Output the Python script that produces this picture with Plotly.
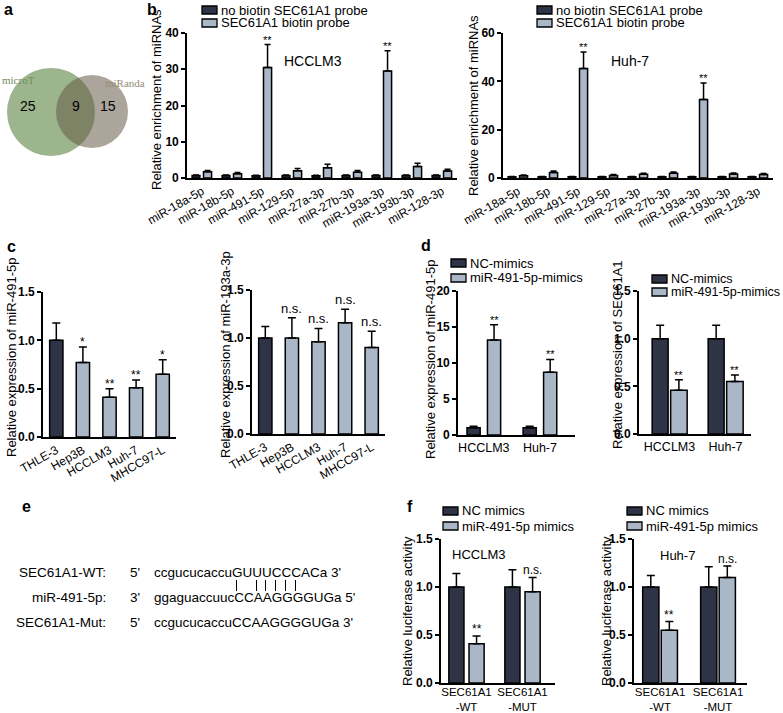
import plotly.graph_objects as go

W, H = 783, 713
FONT = "Arial, Liberation Sans, sans-serif"
SERIF = "Times New Roman, Liberation Serif, serif"
DARK = "#2e3446"
LIGHT = "#a9b7c7"

# ------------------------------------------------------------------ data
venn_sets = ["microT", "miRanda"]
venn_counts = [25, 9, 15]          # microT only, shared, miRanda only

mirnas = ["miR-18a-5p", "miR-18b-5p", "miR-491-5p", "miR-129-5p", "miR-27a-3p",
          "miR-27b-3p", "miR-193a-3p", "miR-193b-3p", "miR-128-3p"]
probe_series = ["no biotin SEC61A1 probe", "SEC61A1 biotin probe"]
hcclm3_nobiotin = [0.7, 0.7, 0.6, 0.7, 0.6, 0.7, 0.7, 0.7, 0.7]
hcclm3_nobiotin_err = [0.15, 0.15, 0.15, 0.15, 0.15, 0.15, 0.15, 0.15, 0.15]
hcclm3_biotin = [1.7, 1.2, 30.5, 2.0, 2.8, 1.6, 29.5, 3.2, 1.9]
hcclm3_biotin_err = [0.4, 0.3, 6.3, 0.6, 1.0, 0.5, 5.6, 0.9, 0.5]
hcclm3_sig = ["", "", "**", "", "", "", "**", "", ""]
huh7_nobiotin = [0.5, 0.5, 0.5, 0.5, 0.5, 0.5, 0.5, 0.5, 0.5]
huh7_nobiotin_err = [0.1, 0.1, 0.1, 0.1, 0.1, 0.1, 0.1, 0.1, 0.1]
huh7_biotin = [0.9, 2.3, 45.3, 1.0, 1.6, 2.0, 32.5, 1.7, 1.5]
huh7_biotin_err = [0.3, 0.6, 6.8, 0.4, 0.4, 0.5, 6.8, 0.4, 0.4]
huh7_sig = ["", "", "**", "", "", "", "**", "", ""]

cell_lines = ["THLE-3", "Hep3B", "HCCLM3", "Huh-7", "MHCC97-L"]
mir491_expr = [1.0, 0.77, 0.41, 0.51, 0.65]
mir491_err = [0.18, 0.16, 0.09, 0.08, 0.15]
mir491_sig = ["", "*", "**", "**", "*"]
mir193a_expr = [1.0, 1.0, 0.96, 1.16, 0.90]
mir193a_err = [0.12, 0.21, 0.14, 0.14, 0.17]
mir193a_sig = ["", "n.s.", "n.s.", "n.s.", "n.s."]

hcc_lines = ["HCCLM3", "Huh-7"]
mimic_series = ["NC-mimics", "miR-491-5p-mimics"]
d491_nc = [1.0, 1.0]
d491_nc_err = [0.2, 0.2]
d491_mim = [13.2, 8.7]
d491_mim_err = [2.1, 1.8]
d491_sig = ["**", "**"]
dsec_nc = [1.0, 1.0]
dsec_nc_err = [0.14, 0.14]
dsec_mim = [0.46, 0.55]
dsec_mim_err = [0.11, 0.07]
dsec_sig = ["**", "**"]

reporters = ["SEC61A1<br>-WT", "SEC61A1<br>-MUT"]
luc_series = ["NC mimics", "miR-491-5p mimics"]
f_hcc_nc = [1.0, 1.0]
f_hcc_nc_err = [0.14, 0.18]
f_hcc_mim = [0.41, 0.95]
f_hcc_mim_err = [0.08, 0.15]
f_hcc_sig = ["**", "n.s."]
f_huh_nc = [1.0, 1.0]
f_huh_nc_err = [0.12, 0.21]
f_huh_mim = [0.55, 1.1]
f_huh_mim_err = [0.09, 0.12]
f_huh_sig = ["**", "n.s."]

seq_labels = ["SEC61A1-WT:", "miR-491-5p:", "SEC61A1-Mut:"]
seq_ends = ["5'", "3'", "5'"]
seq_bases = ["ccgucucaccuGUUUCCCACa", "ggaguaccuucCCAAGGGGUGa", "ccgucucaccuCCAAGGGGUGa"]
seq_tails = [" 3'", " 5'", " 3'"]

# ------------------------------------------------------------------ helpers
def PX(p):
    return p / W

def PY(p):
    return 1 - p / H

fig = go.Figure()
layout = dict(width=W, height=H, margin=dict(l=0, r=0, t=0, b=0, pad=0, autoexpand=False),
              template="none",
              paper_bgcolor="white", plot_bgcolor="white",
              showlegend=False, barmode="group",
              font=dict(family=FONT, color="black"))
annotations = []
shapes = []

def text(x, y, s, size=13, xanchor="center", yanchor="middle", angle=0,
         bold=False, family=FONT, color="black"):
    annotations.append(dict(x=PX(x), y=PY(y), xref="paper", yref="paper", text=s,
                            showarrow=False, xanchor=xanchor, yanchor=yanchor,
                            textangle=angle,
                            font=dict(family=family, size=size, color=color,
                                      weight="bold" if bold else "normal")))

def add_axes(k, x0, x1, yb, yt, yr, xr, dtick, fmt, angle, xfont=12, standoff=0):
    s = "" if k == 1 else str(k)
    layout["xaxis" + s] = dict(domain=[PX(x0), PX(x1)], anchor="y" + s, type="category",
                               range=xr, showline=True, linecolor="black", linewidth=1.6,
                               ticks="", showgrid=False, zeroline=False, tickangle=angle,
                               automargin=False, ticklabelstandoff=standoff,
                               tickfont=dict(family=FONT, size=xfont, color="black"))
    layout["yaxis" + s] = dict(domain=[PY(yb), PY(yt)], anchor="x" + s, range=yr,
                               showline=True, linecolor="black", linewidth=1.6,
                               ticks="outside", ticklen=4, tickwidth=1.6, tickcolor="black",
                               dtick=dtick, tick0=0, tickformat=fmt, showgrid=False,
                               zeroline=False, automargin=False,
                               tickfont=dict(family=FONT, size=12, color="black",
                                             weight="bold"))
    return s

def add_bars(s, cats, vals, errs, color, offset, width, cap):
    fig.add_trace(go.Bar(x=cats, y=vals, xaxis="x" + s, yaxis="y" + s,
                         offset=offset, width=width,
                         marker=dict(color=color, line=dict(color="black", width=1.5)),
                         error_y=dict(type="data", array=errs, arrayminus=[0] * len(errs),
                                      symmetric=False, color="black", thickness=1.5,
                                      width=cap)))

def add_sig(s, vals, errs, sigs, offset, width, size=12, gap=0):
    for i, (v, e, g) in enumerate(zip(vals, errs, sigs)):
        if g:
            annotations.append(dict(x=i + offset + width / 2, y=v + e, xref="x" + s,
                                    yref="y" + s, text=g, showarrow=False,
                                    yanchor="bottom", yshift=gap,
                                    font=dict(family=FONT, size=size, color="black")))

def legend(sx, rows, names, colors, size=13):
    for cy, n, c in zip(rows, names, colors):
        shapes.append(dict(type="rect", xref="paper", yref="paper",
                           x0=PX(sx), x1=PX(sx + 15), y0=PY(cy + 4), y1=PY(cy - 4),
                           fillcolor=c, line=dict(color="black", width=1.3)))
        text(sx + 17, cy, n, size=size, xanchor="left")

# ------------------------------------------------------------------ panel a (Venn)
shapes.append(dict(type="circle", xref="paper", yref="paper", x0=PX(7), x1=PX(95),
                   y0=PY(156), y1=PY(68), fillcolor="rgb(156,181,141)",
                   line=dict(width=0), layer="above"))
shapes.append(dict(type="circle", xref="paper", yref="paper", x0=PX(56), x1=PX(128),
                   y0=PY(148), y1=PY(75), fillcolor="rgb(101,88,70)", opacity=0.54,
                   line=dict(width=0), layer="above"))
text(0, 80, venn_sets[0], size=11, xanchor="left", family=SERIF, color="rgb(110,140,90)")
text(103, 83, venn_sets[1], size=11, xanchor="left", family=SERIF, color="rgb(150,138,115)")
text(28, 106, str(venn_counts[0]), size=14)
text(76, 106, str(venn_counts[1]), size=14)
text(108, 106, str(venn_counts[2]), size=14)

# ------------------------------------------------------------------ panel b
s = add_axes(1, 187, 457, 178, 33, [0, 40], [-0.5, 8.5], 10, "d", -30)
add_bars(s, mirnas, hcclm3_nobiotin, hcclm3_nobiotin_err, DARK, -0.33, 0.26, 3)
add_bars(s, mirnas, hcclm3_biotin, hcclm3_biotin_err, LIGHT, 0.05, 0.27, 3)
add_sig(s, hcclm3_biotin, hcclm3_biotin_err, hcclm3_sig, 0.05, 0.27, size=11, gap=-3)

s = add_axes(2, 503, 773, 178, 33, [0, 60], [-0.5, 8.5], 20, "d", -30)
add_bars(s, mirnas, huh7_nobiotin, huh7_nobiotin_err, DARK, -0.33, 0.26, 3)
add_bars(s, mirnas, huh7_biotin, huh7_biotin_err, LIGHT, 0.05, 0.27, 3)
add_sig(s, huh7_biotin, huh7_biotin_err, huh7_sig, 0.05, 0.27, size=11, gap=-3)

legend(202, [10, 23], probe_series, [DARK, LIGHT])
legend(537, [10, 23], probe_series, [DARK, LIGHT])
text(313, 61, "HCCLM3", size=14)
text(630, 61, "Huh-7", size=14)
text(156, 100, "Relative enrichment of miRNAs", size=13, angle=-90)
text(473, 105, "Relative enrichment of miRNAs", size=13, angle=-90)

# ------------------------------------------------------------------ panel c
s = add_axes(3, 43, 176, 437, 292, [0, 1.5], [-0.5, 4.5], 0.5, ".1f", -30)
add_bars(s, cell_lines[:1], mir491_expr[:1], mir491_err[:1], DARK, -0.25, 0.5, 4)
add_bars(s, cell_lines[1:], mir491_expr[1:], mir491_err[1:], LIGHT, -0.25, 0.5, 4)
add_sig(s, mir491_expr, mir491_err, mir491_sig, -0.25, 0.5, size=12, gap=-4)

s = add_axes(4, 252, 385, 434, 290, [0, 1.5], [-0.5, 4.5], 0.5, ".1f", -30)
add_bars(s, cell_lines[:1], mir193a_expr[:1], mir193a_err[:1], DARK, -0.25, 0.5, 4)
add_bars(s, cell_lines[1:], mir193a_expr[1:], mir193a_err[1:], LIGHT, -0.25, 0.5, 4)
add_sig(s, mir193a_expr, mir193a_err, mir193a_sig, -0.25, 0.5, size=13, gap=0)

text(11, 358, "Relative expression of miR-491-5p", size=13, angle=-90)
text(225, 355, "Relative expression of miR-193a-3p", size=13, angle=-90)

# ------------------------------------------------------------------ panel d
s = add_axes(5, 458, 575, 435, 291, [0, 20], [-0.46, 1.625], 5, "d", 0, xfont=12.5)
add_bars(s, hcc_lines, d491_nc, d491_nc_err, DARK, -0.30, 0.235, 4)
add_bars(s, hcc_lines, d491_mim, d491_mim_err, LIGHT, 0.065, 0.235, 4)
add_sig(s, d491_mim, d491_mim_err, d491_sig, 0.065, 0.235, size=11, gap=-3)

s = add_axes(6, 639, 751, 434, 291, [0, 1.5], [-0.545, 1.455], 0.5, ".1f", 0, xfont=12.5)
add_bars(s, hcc_lines, dsec_nc, dsec_nc_err, DARK, -0.31, 0.285, 4)
add_bars(s, hcc_lines, dsec_mim, dsec_mim_err, LIGHT, 0.02, 0.295, 4)
add_sig(s, dsec_mim, dsec_mim_err, dsec_sig, 0.02, 0.295, size=11, gap=-3)

legend(451, [263, 278], mimic_series, [DARK, LIGHT])
legend(652, [279, 292], mimic_series, [DARK, LIGHT], size=12.6)
text(430, 360, "Relative expression of miR-491-5p", size=13, angle=-90)
text(617, 355, "Relative expression of SEC61A1", size=13, angle=-90)

# ------------------------------------------------------------------ panel e
SEQ_SIZE = 13.5
for lab, end, seq, tail, y in zip(seq_labels, seq_ends, seq_bases, seq_tails, [572, 597, 622]):
    text(108, y, lab, size=13.5, xanchor="right")
    text(128, y, end, size=13.5, xanchor="left")
    text(152, y, seq + tail, size=SEQ_SIZE, xanchor="left")

# base-pairing ticks between target (5'->3') and miRNA (3'->5'), seed region only
ADV = {"a": 556, "c": 500, "g": 556, "u": 556, "A": 667, "C": 722, "G": 778, "U": 722}
PAIRS = {("G", "C"), ("C", "G"), ("A", "U"), ("U", "A")}

def char_centers(seq, x0):
    out, x = [], x0
    for ch in seq:
        w = ADV[ch] * SEQ_SIZE / 1000
        out.append(x + w / 2)
        x += w
    return out

wt_c = char_centers(seq_bases[0], 152)
mi_c = char_centers(seq_bases[1], 152)
for i, (t, m) in enumerate(zip(seq_bases[0], seq_bases[1])):
    if t.isupper() and m.isupper() and (t, m) in PAIRS:
        xc = round((wt_c[i] + mi_c[i]) / 2) + 0.5
        shapes.append(dict(type="line", xref="paper", yref="paper",
                           x0=PX(xc), x1=PX(xc), y0=PY(580), y1=PY(591),
                           line=dict(color="black", width=1)))

# ------------------------------------------------------------------ panel f
s = add_axes(7, 441, 555, 683, 539, [0, 1.5], [-0.455, 1.58], 0.5, ".1f", 0, xfont=11.5,
             standoff=-3)
add_bars(s, reporters, f_hcc_nc, f_hcc_nc_err, DARK, -0.315, 0.27, 4)
add_bars(s, reporters, f_hcc_mim, f_hcc_mim_err, LIGHT, 0.045, 0.27, 4)
add_sig(s, f_hcc_mim, f_hcc_mim_err, f_hcc_sig, 0.045, 0.27, size=12, gap=-2)

s = add_axes(8, 634, 747, 683, 539, [0, 1.5], [-0.45, 1.5], 0.5, ".1f", 0, xfont=11.5,
             standoff=-3)
add_bars(s, reporters, f_huh_nc, f_huh_nc_err, DARK, -0.30, 0.28, 4)
add_bars(s, reporters, f_huh_mim, f_huh_mim_err, LIGHT, 0.02, 0.28, 4)
add_sig(s, f_huh_mim, f_huh_mim_err, f_huh_sig, 0.02, 0.28, size=12, gap=-2)

legend(443, [511, 526], luc_series, [DARK, LIGHT])
legend(627, [511, 526], luc_series, [DARK, LIGHT])
text(478, 554, "HCCLM3", size=13)
text(677, 555, "Huh-7", size=13)
text(407, 611, "Relative luciferase activity", size=13, angle=-90)
text(606, 611, "Relative luciferase activity", size=13, angle=-90)

# ------------------------------------------------------------------ panel letters
for letter, x, y in [("a", 8, 9), ("b", 152, 9), ("c", 11, 247), ("d", 426, 245),
                     ("e", 26, 507), ("f", 410, 507)]:
    text(x, y, letter, size=16, bold=True)

layout["annotations"] = annotations
layout["shapes"] = shapes
fig.update_layout(**layout)
fig.write_html("out.html", config={"displayModeBar": False},
               post_script="document.body.style.margin='0';"
                           "document.body.style.overflow='hidden';")
